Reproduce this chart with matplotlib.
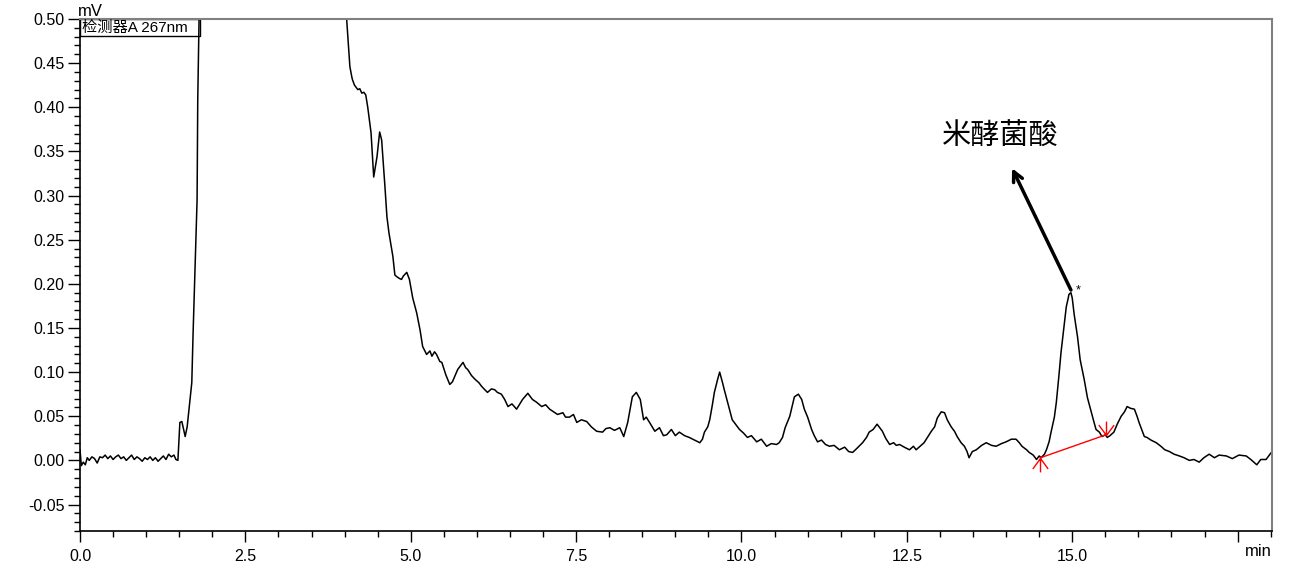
import numpy as np
import matplotlib
matplotlib.use('Agg')
import matplotlib.pyplot as plt
from matplotlib.patches import Rectangle
from matplotlib.path import Path

plt.rcParams['font.family'] = ['Liberation Sans', 'Noto Sans CJK SC', 'DejaVu Sans']

# chromatogram trace (min, mV)
time_min = [
    0.00, 0.02, 0.05, 0.08, 0.11, 0.14, 0.18, 0.22, 0.26, 0.30, 0.34, 0.38, 0.42, 0.46,
    0.50, 0.54, 0.58, 0.62, 0.66, 0.70, 0.74, 0.78, 0.82, 0.86, 0.90, 0.94, 0.98, 1.02,
    1.06, 1.10, 1.14, 1.18, 1.22, 1.26, 1.30, 1.34, 1.38, 1.42, 1.45, 1.48,
    1.51, 1.54, 1.59, 1.62, 1.66, 1.69, 1.71, 1.74, 1.77, 1.78, 1.80, 1.85, 3.95,
    4.03, 4.08, 4.11, 4.12, 4.15, 4.18, 4.20, 4.23, 4.26, 4.29, 4.32, 4.35, 4.40, 4.44,
    4.49, 4.53, 4.56, 4.61, 4.64, 4.67, 4.73, 4.76, 4.79, 4.83, 4.86, 4.89, 4.94, 4.97,
    4.98, 5.03, 5.09, 5.14, 5.18, 5.24, 5.29, 5.32, 5.36, 5.39, 5.44, 5.47, 5.53, 5.59,
    5.63, 5.71, 5.79, 5.83, 5.86, 5.92, 5.97, 6.03, 6.07, 6.12, 6.16, 6.22, 6.27, 6.31,
    6.37, 6.42, 6.47, 6.53, 6.60, 6.65, 6.69, 6.77, 6.84, 6.90, 6.98, 7.04, 7.10, 7.16,
    7.22, 7.30, 7.34, 7.40, 7.46, 7.51, 7.58, 7.66, 7.73, 7.81, 7.90, 7.95, 8.01, 8.08,
    8.16, 8.22, 8.28, 8.35, 8.41, 8.47, 8.52, 8.56, 8.61, 8.69, 8.76, 8.82, 8.87, 8.94,
    9.00, 9.06, 9.14, 9.21, 9.29, 9.37, 9.41, 9.44, 9.49, 9.52, 9.56, 9.59, 9.64, 9.67,
    9.71, 9.74, 9.79, 9.82, 9.86, 9.91, 9.97, 10.03, 10.09, 10.15, 10.23, 10.30, 10.38,
    10.45, 10.53, 10.57, 10.62, 10.66, 10.73, 10.80, 10.86, 10.91, 10.95, 11.00, 11.06,
    11.10, 11.15, 11.21, 11.27, 11.33, 11.40, 11.48, 11.56, 11.62, 11.68, 11.75, 11.83,
    11.89, 11.93, 11.99, 12.05, 12.10, 12.13, 12.18, 12.24, 12.30, 12.34, 12.39, 12.46,
    12.54, 12.60, 12.64, 12.70, 12.76, 12.82, 12.87, 12.92, 12.96, 13.02, 13.07, 13.11,
    13.17, 13.22, 13.26, 13.32, 13.37, 13.41, 13.44, 13.49, 13.55, 13.63, 13.70, 13.78,
    13.85, 13.93, 14.00, 14.08, 14.15, 14.20, 14.24, 14.31, 14.35, 14.41, 14.46, 14.50,
    14.53, 14.58, 14.61, 14.65, 14.68, 14.73, 14.76, 14.80, 14.83, 14.88, 14.91, 14.94,
    14.95, 14.98, 15.00, 15.03, 15.08, 15.12, 15.18, 15.23, 15.29, 15.33, 15.36, 15.41,
    15.45, 15.50, 15.53, 15.57, 15.63, 15.68, 15.74, 15.79, 15.83, 15.88, 15.94, 15.98,
    16.01, 16.06, 16.09, 16.13, 16.19, 16.27, 16.34, 16.40, 16.47, 16.54, 16.62, 16.69,
    16.77, 16.84, 16.92, 16.99, 17.07, 17.15, 17.22, 17.33, 17.42, 17.52, 17.63, 17.70,
    17.79, 17.85, 17.93, 18.01,
]
signal_mv = [
    0.012, -0.006, -0.002, -0.005, 0.003, 0.000, 0.004, 0.002, -0.003, 0.004, 0.003, 0.006, 0.002, 0.005,
    0.001, 0.004, 0.006, 0.002, 0.004, 0.000, 0.003, 0.006, 0.001, 0.004, 0.002, -0.001, 0.003, 0.001,
    0.004, 0.000, 0.003, -0.001, 0.002, 0.005, 0.001, 0.007, 0.004, 0.006, 0.001, 0.000,
    0.043, 0.044, 0.027, 0.038, 0.066, 0.088, 0.145, 0.219, 0.295, 0.408, 0.501, 1.200, 1.200,
    0.501, 0.446, 0.434, 0.431, 0.425, 0.422, 0.420, 0.421, 0.416, 0.417, 0.414, 0.400, 0.371, 0.321,
    0.344, 0.372, 0.363, 0.310, 0.276, 0.258, 0.231, 0.210, 0.208, 0.206, 0.205, 0.209, 0.213, 0.207,
    0.205, 0.184, 0.167, 0.148, 0.129, 0.120, 0.124, 0.118, 0.123, 0.120, 0.112, 0.111, 0.097, 0.086,
    0.089, 0.103, 0.111, 0.105, 0.103, 0.096, 0.092, 0.088, 0.084, 0.080, 0.077, 0.081, 0.080, 0.077,
    0.075, 0.069, 0.061, 0.064, 0.058, 0.064, 0.069, 0.076, 0.069, 0.066, 0.061, 0.063, 0.058, 0.055,
    0.052, 0.054, 0.049, 0.049, 0.052, 0.043, 0.046, 0.044, 0.038, 0.033, 0.032, 0.036, 0.037, 0.034,
    0.037, 0.027, 0.043, 0.072, 0.077, 0.069, 0.046, 0.049, 0.043, 0.033, 0.037, 0.028, 0.029, 0.035,
    0.028, 0.032, 0.028, 0.026, 0.023, 0.020, 0.024, 0.032, 0.038, 0.046, 0.063, 0.077, 0.092, 0.100,
    0.089, 0.080, 0.066, 0.058, 0.046, 0.041, 0.035, 0.031, 0.026, 0.028, 0.021, 0.024, 0.016,
    0.019, 0.018, 0.020, 0.026, 0.037, 0.050, 0.072, 0.075, 0.069, 0.058, 0.049, 0.035,
    0.028, 0.021, 0.023, 0.018, 0.016, 0.017, 0.012, 0.015, 0.010, 0.009, 0.014, 0.020,
    0.026, 0.032, 0.035, 0.041, 0.036, 0.033, 0.025, 0.018, 0.020, 0.017, 0.018, 0.015,
    0.012, 0.016, 0.012, 0.016, 0.020, 0.027, 0.033, 0.038, 0.048, 0.055, 0.054, 0.046,
    0.038, 0.033, 0.027, 0.020, 0.016, 0.010, 0.003, 0.010, 0.012, 0.017, 0.020, 0.017,
    0.016, 0.019, 0.021, 0.024, 0.024, 0.020, 0.016, 0.012, 0.009, 0.006, 0.001, 0.005,
    0.003, 0.007, 0.012, 0.021, 0.032, 0.049, 0.066, 0.097, 0.122, 0.154, 0.174, 0.184,
    0.188, 0.190, 0.184, 0.165, 0.140, 0.114, 0.092, 0.071, 0.054, 0.043, 0.035, 0.032,
    0.027, 0.029, 0.026, 0.028, 0.032, 0.041, 0.050, 0.055, 0.061, 0.059, 0.058, 0.050,
    0.043, 0.033, 0.027, 0.026, 0.023, 0.020, 0.016, 0.012, 0.010, 0.007, 0.005, 0.003,
    0.000, 0.001, -0.002, 0.003, 0.007, 0.003, 0.006, 0.005, 0.002, 0.006, 0.005, 0.001,
    -0.005, 0.001, 0.001, 0.009,
]

# integration baseline of the marked peak
base_t = [14.52, 15.51]
base_v = [0.003, 0.029]
peak_t = 14.98
peak_v = 0.190
peak_name = '米酵菌酸'
detector_label = '检测器A 267nm'

x_major = [0.0, 2.5, 5.0, 7.5, 10.0, 12.5, 15.0, 17.5]
x_labels = ['0.0', '2.5', '5.0', '7.5', '10.0', '12.5', '15.0', '']
y_major = [-0.05, 0.00, 0.05, 0.10, 0.15, 0.20, 0.25, 0.30, 0.35, 0.40, 0.45, 0.50]

fig = plt.figure(figsize=(13.01, 5.73), dpi=100)
ax = fig.add_axes([80/1301, 1-531/573, 1192/1301, 512/573])

ax.plot(time_min, signal_mv, color='black', lw=1.1)

# start / end markers of the integration
start_mk = Path([(0, 0), (0, -1), (0, 0), (-0.55, -0.75), (0, 0), (0.55, -0.75)],
                [Path.MOVETO, Path.LINETO, Path.MOVETO, Path.LINETO, Path.MOVETO, Path.LINETO])
end_mk = Path([(0, 0), (0, 1), (0, 0), (-0.55, 0.75), (0, 0), (0.55, 0.75)],
              [Path.MOVETO, Path.LINETO, Path.MOVETO, Path.LINETO, Path.MOVETO, Path.LINETO])
ax.plot(base_t, base_v, color='red', lw=1.0)
ax.plot(base_t[0], base_v[0], marker=start_mk, ms=20, mew=1.0, color='red', fillstyle='none')
ax.plot(base_t[1], base_v[1], marker=end_mk, ms=20, mew=1.0, color='red', fillstyle='none')

ax.annotate('', xy=(14.09, 0.331), xytext=(peak_t, peak_v + 0.003),
            arrowprops=dict(arrowstyle='->,head_length=0.7,head_width=0.35', lw=2.5,
                            color='black', shrinkA=0, shrinkB=0))
ax.text(13.91, 0.367, peak_name, fontsize=21, ha='center', va='center',
        family=['Noto Sans CJK SC', 'DejaVu Sans'])
ax.text(peak_t + 0.07, peak_v + 0.002, '*', fontsize=9, ha='left', va='center')

ax.set_xlim(0, 18.02)
ax.set_ylim(-0.08, 0.50)
ax.set_xticks(x_major)
ax.set_xticklabels(x_labels)
ax.set_xticks(np.arange(0, 18.01, 0.5), minor=True)
ax.set_yticks(y_major)
ax.set_yticklabels(['%.2f' % v for v in y_major])
ax.set_yticks(np.arange(-0.08, 0.501, 0.01), minor=True)
ax.tick_params(axis='both', which='major', labelsize=11.5, direction='out', width=1.0)
ax.tick_params(axis='x', which='major', length=8, pad=5)
ax.tick_params(axis='y', which='major', length=9, pad=2)
ax.tick_params(axis='both', which='minor', length=4, width=1.0)

for s in ['top', 'right']:
    ax.spines[s].set_color('#808080')
    ax.spines[s].set_linewidth(1.5)
for s in ['left', 'bottom']:
    ax.spines[s].set_color('black')
    ax.spines[s].set_linewidth(1.2)

# detector box in the corner
ax.add_patch(Rectangle((0, 1 - 17/512), 120/1192, 17/512, transform=ax.transAxes,
                       fill=False, edgecolor='black', lw=1.0, clip_on=False))
ax.text(2/1192, 1 - 8.5/512, detector_label, transform=ax.transAxes, fontsize=11,
        ha='left', va='center')

fig.text(78/1301, 1 - 11/573, 'mV', fontsize=12, ha='left', va='center')
fig.text(1272/1301, 1 - 551/573, 'min', fontsize=12, ha='right', va='center')

fig.savefig('out.png', dpi=100)
